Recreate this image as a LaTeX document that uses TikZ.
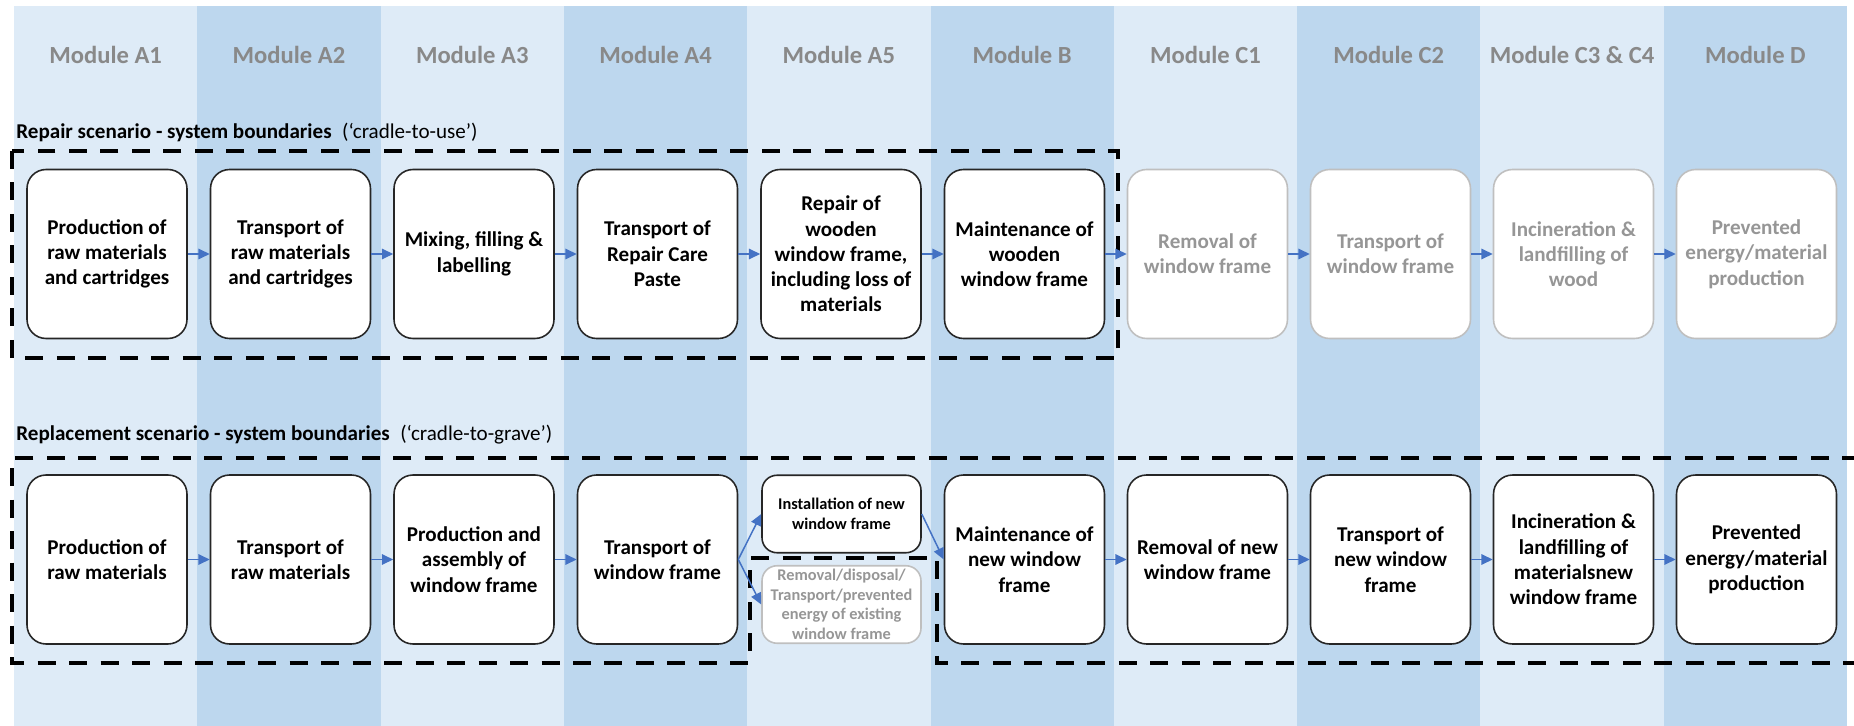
\documentclass[tikz,border=0pt]{standalone}
\usepackage{fontspec}
\setmainfont{Carlito}
\usetikzlibrary{arrows.meta}
\definecolor{lightcol}{RGB}{222,235,247}
\definecolor{darkcol}{RGB}{189,215,238}
\definecolor{modgray}{RGB}{137,137,137}
\definecolor{fadegray}{RGB}{150,150,150}
\definecolor{fadeline}{RGB}{191,191,191}
\definecolor{flowblue}{RGB}{68,114,196}
\tikzset{
  stage/.style={draw=black!85, line width=0.9pt, fill=white, rounded corners=0.38cm, minimum width=3.2cm, minimum height=3.38cm, align=center, inner sep=1pt, font=\fontsize{12}{14.4}\selectfont\bfseries},
  faded/.style={draw=fadeline, text=fadegray},
  smallstage/.style={stage, minimum width=3.18cm, minimum height=1.55cm, rounded corners=0.3cm, font=\fontsize{9.3}{11.1}\selectfont\bfseries},
  modlabel/.style={font=\fontsize{14}{16}\selectfont\bfseries, text=modgray},
  scentitle/.style={anchor=west, inner sep=0pt, font=\fontsize{12}{14.4}\selectfont},
  boundary/.style={line width=2.3pt, dash pattern=on 0.36cm off 0.27cm},
  flow/.style={draw=flowblue, line width=0.85pt, -{Triangle[length=6.5pt,width=6pt]}}
}
\begin{document}
\begin{tikzpicture}[x=0.02cm, y=-0.02cm]
                \useasboundingbox (0,0) rectangle (1854,726);
                \foreach \i in {0,2,4,6,8} \fill[lightcol] ({14+183.3*\i},6) rectangle ({14+183.3*(\i+1)},726);
                \foreach \i in {1,3,5,7,9} \fill[darkcol] ({14+183.3*\i},6) rectangle ({14+183.3*(\i+1)},726);
                \foreach \i/\m in {0/A1,1/A2,2/A3,3/A4,4/A5,5/B,6/C1,7/C2,8/C3 \& C4,9/D} \node[modlabel] (mod\i) at ({105.65+183.3*\i},55) {Module \m};

                \node[scentitle] (reptitle) at (16,132) {\textbf{Repair scenario - system boundaries}\hspace{6pt}(‘cradle-to-use’)};
                \node[scentitle] (rpltitle) at (16,435) {\textbf{Replacement scenario - system boundaries}\hspace{6pt}(‘cradle-to-grave’)};

                \draw[boundary] (12,151) rectangle (1118,358);
                \draw[boundary] (1860,458) -- (12,458) -- (12,663) -- (750,663) -- (750,558) -- (937,558) -- (937,663) -- (1860,663);

                \node[stage] (repA1) at (107,254) {Production of\\raw materials\\and cartridges};
                \node[stage] (repA2) at (290.5,254) {Transport of\\raw materials\\and cartridges};
                \node[stage] (repA3) at (474,254) {Mixing, filling \&\\labelling};
                \node[stage] (repA4) at (657.5,254) {Transport of\\Repair Care\\Paste};
                \node[stage] (repA5) at (841,254) {Repair of\\wooden\\window frame,\\including loss of\\materials};
                \node[stage] (repB) at (1024.5,254) {Maintenance of\\wooden\\window frame};
                \node[stage,faded] (repC1) at (1207.5,254) {Removal of\\window frame};
                \node[stage,faded] (repC2) at (1390.5,254) {Transport of\\window frame};
                \node[stage,faded] (repC34) at (1573.5,254) {Incineration \&\\landfilling of\\wood};
                \node[stage,faded] (repD) at (1756.5,254) {Prevented\\energy/material\\production};

                \node[stage] (rplA1) at (107,559.5) {Production of\\raw materials};
                \node[stage] (rplA2) at (290.5,559.5) {Transport of\\raw materials};
                \node[stage] (rplA3) at (474,559.5) {Production and\\assembly of\\window frame};
                \node[stage] (rplA4) at (657.5,559.5) {Transport of\\window frame};
                \node[smallstage] (rplA5in) at (841.5,514) {Installation of new\\window frame};
                \node[smallstage,faded] (rplA5out) at (841.5,604.5) {Removal/disposal/\\Transport/prevented\\energy of existing\\window frame};
                \node[stage] (rplB) at (1024.5,559.5) {Maintenance of\\new window\\frame};
                \node[stage] (rplC1) at (1207.5,559.5) {Removal of new\\window frame};
                \node[stage] (rplC2) at (1390.5,559.5) {Transport of\\new window\\frame};
                \node[stage] (rplC34) at (1573.5,559.5) {Incineration \&\\landfilling of\\materialsnew\\window frame};
                \node[stage] (rplD) at (1756.5,559.5) {Prevented\\energy/material\\production};

                \draw[flow] (repA1) to (repA2); \draw[flow] (repA2) to (repA3); \draw[flow] (repA3) to (repA4); \draw[flow] (repA4) to (repA5); \draw[flow] (repA5) to (repB);
                \draw[flow] (repB) to (repC1); \draw[flow] (repC1) to (repC2); \draw[flow] (repC2) to (repC34); \draw[flow] (repC34) to (repD);
                \draw[flow] (rplA1) to (rplA2); \draw[flow] (rplA2) to (rplA3); \draw[flow] (rplA3) to (rplA4); \draw[flow] (rplA4.east) to (rplA5in.west); \draw[flow] (rplA4.east) to (rplA5out.west);
                \draw[flow] (rplA5in.east) to (rplB.west); \draw[flow] (rplB) to (rplC1); \draw[flow] (rplC1) to (rplC2); \draw[flow] (rplC2) to (rplC34); \draw[flow] (rplC34) to (rplD);
            \end{tikzpicture}
\end{document}
